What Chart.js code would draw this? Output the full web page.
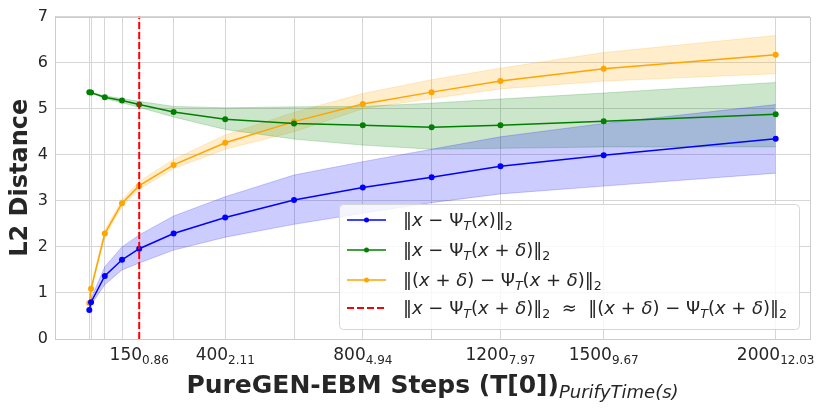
<!DOCTYPE html>
<html>
<head>
<meta charset="utf-8">
<script src="https://cdn.jsdelivr.net/npm/chart.js@4.4.0/dist/chart.umd.min.js"></script>
<style>
  html, body { margin: 0; padding: 0; background: #fff; }
  #wrap { width: 830px; height: 415px; }
</style>
</head>
<body>
<div id="wrap"><canvas id="chart" width="830" height="415"></canvas></div>
<script>
// ===== Data =====
const steps = [5, 10, 50, 100, 150, 250, 400, 600, 800, 1000, 1200, 1500, 2000];

const cleanDist = [0.63, 0.80, 1.37, 1.72, 1.96, 2.29, 2.64, 3.02, 3.29, 3.51, 3.75, 3.99, 4.35];
const cleanLow  = [0.61, 0.74, 1.18, 1.50, 1.65, 1.93, 2.21, 2.49, 2.73, 2.96, 3.15, 3.32, 3.60];
const cleanHigh = [0.65, 0.88, 1.57, 2.00, 2.26, 2.67, 3.09, 3.56, 3.85, 4.12, 4.39, 4.68, 5.09];

const advDist = [5.36, 5.35, 5.25, 5.18, 5.09, 4.93, 4.77, 4.68, 4.64, 4.60, 4.64, 4.73, 4.88];
const advLow  = [5.35, 5.34, 5.22, 5.13, 5.03, 4.82, 4.55, 4.34, 4.21, 4.12, 4.14, 4.17, 4.17];
const advHigh = [5.37, 5.36, 5.28, 5.22, 5.16, 5.05, 5.02, 5.04, 5.05, 5.12, 5.21, 5.34, 5.57];

const pertDist = [0.78, 1.09, 2.29, 2.95, 3.33, 3.78, 4.26, 4.72, 5.10, 5.36, 5.60, 5.87, 6.17];
const pertLow  = [0.76, 1.05, 2.22, 2.88, 3.25, 3.70, 4.12, 4.50, 5.00, 5.22, 5.43, 5.60, 5.76];
const pertHigh = [0.80, 1.13, 2.36, 3.02, 3.42, 3.90, 4.43, 4.92, 5.33, 5.63, 5.88, 6.22, 6.59];

const crossStep = 150;

const tickSteps = [150, 400, 800, 1200, 1500, 2000];
const tickTimes = ['0.86', '2.11', '4.94', '7.97', '9.67', '12.03'];

const legendLabels = [
  '‖x − Ψ_T(x)‖_2',
  '‖x − Ψ_T(x + δ)‖_2',
  '‖(x + δ) − Ψ_T(x + δ)‖_2',
  '‖x − Ψ_T(x + δ)‖_2  ≈  ‖(x + δ) − Ψ_T(x + δ)‖_2'
];

// ===== Helpers =====
const FONT = '"DejaVu Sans", sans-serif';
const TEXT = '#262626';

function series(ys) {
  return steps.map((s, i) => ({ x: s, y: ys[i] }));
}

function lineSet(label, ys, color) {
  return {
    label: label, data: series(ys), borderColor: color, backgroundColor: color,
    borderWidth: 1.5, pointRadius: 3, pointBorderWidth: 0, fill: false, tension: 0
  };
}

function bandSets(low, high, rgb) {
  const c = `rgba(${rgb},0.2)`;
  return [
    { label: 'low', data: series(low), borderColor: c, borderWidth: 1, pointRadius: 0, fill: false },
    { label: 'high', data: series(high), borderColor: c, backgroundColor: c, borderWidth: 1, pointRadius: 0, fill: '-1' }
  ];
}

// mini math text: '_' makes next char a subscript, latin letters and δ italic
function mathRuns(str, size) {
  const runs = [];
  for (let i = 0; i < str.length; i++) {
    let ch = str[i], sub = false;
    if (ch === '_') { sub = true; ch = str[++i]; }
    const it = /[a-zA-Zδ]/.test(ch);
    const sz = sub ? size * 0.7 : size;
    runs.push({ t: ch, font: `${it ? 'italic ' : ''}${sz}px ${FONT}`, dy: sub ? size * 0.22 : 0 });
  }
  return runs;
}

function runsWidth(ctx, runs) {
  let w = 0;
  runs.forEach(r => { ctx.font = r.font; w += ctx.measureText(r.t).width; });
  return w;
}

function drawRuns(ctx, runs, x, y) {
  ctx.textBaseline = 'alphabetic';
  ctx.textAlign = 'left';
  runs.forEach(r => {
    ctx.font = r.font;
    ctx.fillText(r.t, x, y + (r.dy || 0));
    x += ctx.measureText(r.t).width;
  });
}

// ===== Decorations (frame, x labels, title, legend) =====
const decorPlugin = {
  id: 'decor',
  afterDraw(chart) {
    const ctx = chart.ctx;
    const area = chart.chartArea;
    const xs = chart.scales.x;
    ctx.save();

    // frame
    ctx.strokeStyle = '#cccccc';
    ctx.lineWidth = 1;
    ctx.strokeRect(Math.round(area.left) + 0.5, Math.round(area.top) + 0.5,
      Math.round(area.right - area.left), Math.round(area.bottom - area.top));

    // x tick labels with purify-time subscripts
    ctx.fillStyle = TEXT;
    tickSteps.forEach((s, i) => {
      const runs = [
        { t: String(s), font: `17px ${FONT}` },
        { t: tickTimes[i], font: `12px ${FONT}`, dy: 3.5 }
      ];
      const w = runsWidth(ctx, runs);
      drawRuns(ctx, runs, xs.getPixelForValue(s) - w / 2, 360);
    });

    // x axis title
    const title = [
      { t: 'PureGEN-EBM Steps (T[0])', font: `bold 25px ${FONT}` },
      { t: 'PurifyTime(s)', font: `italic 18px ${FONT}`, dy: 5 }
    ];
    const tw = runsWidth(ctx, title);
    drawRuns(ctx, title, (area.left + area.right) / 2 - tw / 2, 393);

    // legend
    const bx = 339, by = 204, bw = 460, bh = 125;
    ctx.beginPath();
    ctx.roundRect(bx + 0.5, by + 0.5, bw, bh, 4);
    ctx.fillStyle = 'rgba(255,255,255,0.8)';
    ctx.fill();
    ctx.strokeStyle = '#d6d6d6';
    ctx.stroke();

    const rows = [220, 250, 280, 308];
    const ds = chart.data.datasets;
    const entries = [ds[1], ds[2], ds[3], ds[0]];
    entries.forEach((d, i) => {
      const y = rows[i];
      ctx.strokeStyle = d.borderColor;
      ctx.lineWidth = d.borderWidth;
      ctx.setLineDash(d.borderDash || []);
      ctx.beginPath();
      ctx.moveTo(347, y);
      ctx.lineTo(386, y);
      ctx.stroke();
      ctx.setLineDash([]);
      if (d.pointRadius) {
        ctx.fillStyle = d.borderColor;
        ctx.beginPath();
        ctx.arc(366.5, y, 2.5, 0, Math.PI * 2);
        ctx.fill();
      }
      ctx.fillStyle = TEXT;
      drawRuns(ctx, mathRuns(legendLabels[i], 18), 403, y + 6);
    });

    ctx.restore();
  }
};

// ===== Chart =====
const datasets = [
  {
    label: 'equal', data: [{ x: crossStep, y: 0 }, { x: crossStep, y: 7 }],
    borderColor: '#ff0000', borderWidth: 2, borderDash: [7, 3], pointRadius: 0, fill: false
  },
  lineSet('clean', cleanDist, '#0000ff'),
  lineSet('adv', advDist, '#008000'),
  lineSet('pert', pertDist, '#ffa500'),
  ...bandSets(cleanLow, cleanHigh, '0,0,255'),
  ...bandSets(advLow, advHigh, '0,128,0'),
  ...bandSets(pertLow, pertHigh, '255,165,0')
];

new Chart(document.getElementById('chart'), {
  type: 'line',
  data: { datasets: datasets },
  options: {
    responsive: false,
    animation: false,
    devicePixelRatio: 1,
    layout: { padding: { top: 16, right: 20, left: 0, bottom: 0 } },
    plugins: { legend: { display: false }, tooltip: { enabled: false } },
    scales: {
      x: {
        type: 'linear',
        min: -94.75,
        max: 2099.75,
        afterBuildTicks(scale) {
          scale.ticks = steps.map(v => ({ value: v }));
        },
        afterFit(scale) { scale.height = 76; },
        ticks: { display: false },
        grid: { color: '#d6d6d6', lineWidth: 1, drawTicks: false },
        border: { display: true, color: '#cccccc' }
      },
      y: {
        min: 0,
        max: 7,
        afterFit(scale) { scale.width = 55; },
        ticks: { stepSize: 1, padding: 7, color: TEXT, font: { family: 'DejaVu Sans', size: 16 } },
        grid: { color: '#d6d6d6', lineWidth: 1, drawTicks: false },
        border: { display: true, color: '#cccccc' },
        title: {
          display: true, text: 'L2 Distance', color: TEXT,
          font: { family: 'DejaVu Sans', size: 24, weight: 'bold' },
          padding: { top: 6, bottom: 0 }
        }
      }
    }
  },
  plugins: [decorPlugin]
});
</script>
</body>
</html>
